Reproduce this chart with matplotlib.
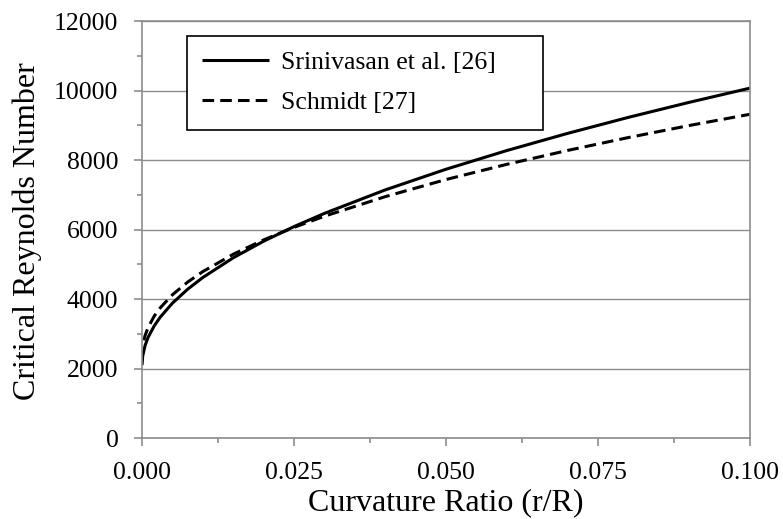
import matplotlib
matplotlib.use("Agg")
import matplotlib.pyplot as plt
from matplotlib.ticker import MultipleLocator

# values
x_srini = [0.0, 0.0001, 0.0005, 0.001, 0.002, 0.003, 0.005, 0.0075, 0.01, 0.015,
           0.02, 0.025, 0.03, 0.04, 0.05, 0.06, 0.07, 0.08, 0.09, 0.1]
re_srini = [2100, 2352, 2663, 2897, 3227, 3480, 3882, 4282, 4620, 5186,
            5664, 6085, 6465, 7140, 7735, 8273, 8767, 9228, 9660, 10069]

x_schmidt = [0.0003, 0.0005, 0.001, 0.002, 0.003, 0.005, 0.0075, 0.01, 0.015,
             0.02, 0.025, 0.03, 0.04, 0.05, 0.06, 0.07, 0.08, 0.09, 0.1]
re_schmidt = [2810, 2947, 3184, 3507, 3748, 4123, 4488, 4790, 5289,
              5702, 6062, 6383, 6946, 7439, 7876, 8276, 8647, 8993, 9317]

labels = ["Srinivasan et al. [26]", "Schmidt [27]"]
x_ticks = [0.0, 0.025, 0.05, 0.075, 0.1]
x_ticklabels = ["0.000", "0.025", "0.050", "0.075", "0.100"]

plt.rcParams["font.family"] = ["Liberation Serif", "DejaVu Serif"]
grey = "#8c8c8c"

fig = plt.figure(figsize=(7.83, 5.19), dpi=100)
ax = fig.add_axes([0.1814, 0.156, 0.7765, 0.8035])

ax.plot(x_srini, re_srini, color="black", lw=2.2, solid_capstyle="butt", label=labels[0])
ax.plot(x_schmidt, re_schmidt, color="black", lw=2.2, ls=(0, (3.8, 2.0)), label=labels[1])

ax.set_xlim(0, 0.1)
ax.set_ylim(0, 12000)
ax.set_xticks(x_ticks)
ax.set_xticklabels(x_ticklabels)
ax.xaxis.set_minor_locator(MultipleLocator(0.0125))
ax.yaxis.set_major_locator(MultipleLocator(2000))
ax.yaxis.set_minor_locator(MultipleLocator(1000))

ax.grid(True, which="major", axis="y", color=grey, lw=1.0)
ax.set_axisbelow(True)
for s in ax.spines.values():
    s.set_color(grey)
    s.set_linewidth(1.2)

ax.tick_params(which="major", direction="out", length=6, width=1.2, color=grey,
               labelsize=18.5)
ax.tick_params(which="minor", direction="out", length=3.5, width=1.2, color=grey)
ax.tick_params(axis="y", which="major", pad=11)
ax.tick_params(axis="x", which="major", pad=11)

ax.set_xlabel("Curvature Ratio (r/R)", fontsize=23, labelpad=3)
ax.set_ylabel("Critical Reynolds Number", fontsize=23)
ax.yaxis.set_label_coords(-0.165, 0.495)

leg = ax.legend(loc="upper left", bbox_to_anchor=(0.074, 0.741, 0.586, 0.223),
                mode="expand", fontsize=18.5, handlelength=2.6, handletextpad=0.45,
                borderpad=0.6, labelspacing=0.65, fancybox=False, framealpha=1,
                borderaxespad=0)
leg.get_frame().set_edgecolor("black")
leg.get_frame().set_linewidth(1.2)

fig.savefig("out.png", dpi=100)
